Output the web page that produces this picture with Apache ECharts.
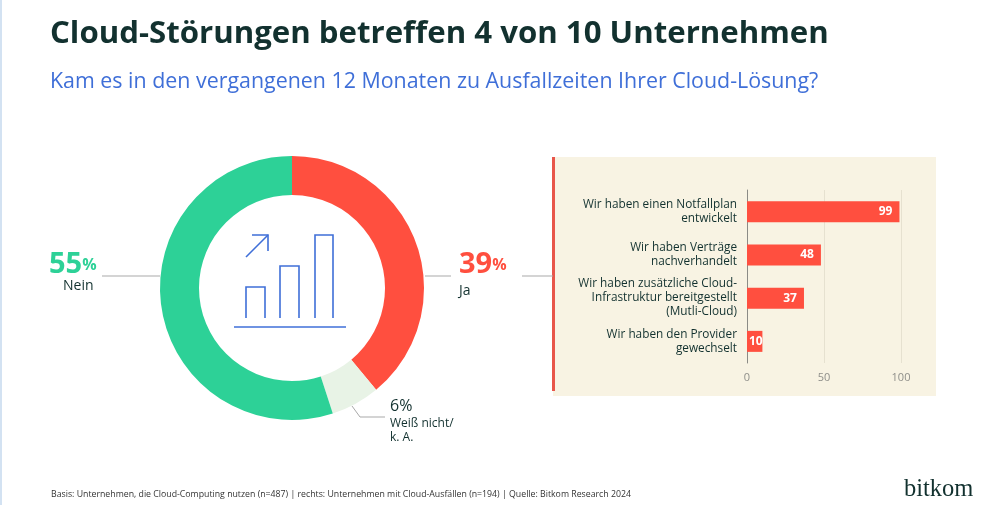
<!DOCTYPE html>
<html><head><meta charset="utf-8">
<style>html,body{margin:0;padding:0;background:#fff}#c{width:1000px;height:505px}</style>
<script src="https://cdn.jsdelivr.net/npm/echarts@6/dist/echarts.min.js"></script>
</head><body><div id="c"></div>
<script>
const pieNames = ['Ja', 'Weiß nicht/ k. A.', 'Nein'];
const pieValues = [39, 6, 55];
const barCategories = [
  'Wir haben einen Notfallplan\nentwickelt',
  'Wir haben Verträge\nnachverhandelt',
  'Wir haben zusätzliche Cloud-\nInfrastruktur bereitgestellt\n(Mutli-Cloud)',
  'Wir haben den Provider\ngewechselt'
];
const barValues = [99, 48, 37, 10];
const xTicks = [0, 50, 100];

const F = '"Open Sans", "Noto Sans", sans-serif';
const DARK = '#12312f', BLUE = '#3f6fd8', RED = '#ff4f3f', GREEN = '#2dd197', PALE = '#e8f3e6', LINE = '#a9a9a9';
const line = (pts, color, w) => ({type:'polyline', silent:true, shape:{points:pts}, style:{fill:null, stroke:color, lineWidth:w}});
const rect = (x,y,w,h,fill,z) => ({type:'rect', silent:true, z:z||0, shape:{x,y,width:w,height:h}, style:{fill}});
const text = (x,y,t,o) => ({type:'text', silent:true, x, y, style:Object.assign({text:t, fontFamily:F, fill:DARK, textVerticalAlign:'middle'}, o)});

const chart = echarts.init(document.getElementById('c'), null, {renderer:'canvas'});
chart.setOption({
  animation:false,
  backgroundColor:'#fff',
  title:[
    {text:'Cloud-Störungen betreffen 4 von 10 Unternehmen', left:45, top:14, textStyle:{fontFamily:F, fontSize:31.2, fontWeight:700, color:DARK}},
    {text:'Kam es in den vergangenen 12 Monaten zu Ausfallzeiten Ihrer Cloud-Lösung?', left:45, top:66, textStyle:{fontFamily:F, fontSize:21.4, fontWeight:400, color:BLUE}}
  ],
  grid:{left:747, top:190, width:154, height:173, containLabel:false},
  xAxis:{type:'value', min:0, max:100, interval:50,
    axisLine:{show:false}, axisTick:{show:false},
    splitLine:{show:true, lineStyle:{color:'#e6e1d0', width:1}},
    axisLabel:{color:'#8f8f8a', fontFamily:F, fontSize:11, margin:9, formatter:v => xTicks.includes(v) ? String(v) : ''}},
  yAxis:{type:'category', inverse:true, data:barCategories,
    axisLine:{show:true, lineStyle:{color:'#8b8b86', width:1}}, axisTick:{show:false},
    axisLabel:{color:DARK, fontFamily:F, fontSize:11.8, lineHeight:14, align:'right', margin:10}},
  series:[
    {type:'pie', center:[292,288], radius:[93,132], startAngle:90, silent:true,
     label:{show:false}, labelLine:{show:false},
     data:pieNames.map((n,i)=>({name:n, value:pieValues[i], itemStyle:{color:[RED,PALE,GREEN][i]}}))},
    {type:'bar', barWidth:21, itemStyle:{color:RED}, silent:true,
     label:{show:true, position:'insideRight', distance:7, color:'#fff', fontFamily:F, fontWeight:700, fontSize:12},
     data:barValues.map((v,i)=> i===3 ? {value:v, label:{position:'insideLeft', distance:2}} : v)}
  ],
  graphic:{elements:[
    rect(0,0,2,505,'#d3e2f2'),
    rect(553,157,383,239,'#f8f3e3',-10),
    rect(552,157,3,234,'#e8564a',-9),
    line([[102,276],[160,276]],LINE,1),
    line([[425,276],[451,276]],LINE,1),
    line([[522,276],[553,276]],LINE,1),
    line([[352,406],[360,417],[385,417]],LINE,1),
    // centre icon
    line([[246,318],[246,287],[265,287],[265,318]],BLUE,1.6),
    line([[280,318],[280,266],[299,266],[299,318]],BLUE,1.6),
    line([[315,318],[315,235],[333,235],[333,318]],BLUE,1.6),
    line([[234,327],[346,327]],BLUE,1.6),
    line([[246,257],[268,235]],BLUE,1.6),
    line([[252,235],[268,235],[268,251]],BLUE,1.6),
    // donut labels
    {type:'text', silent:true, x:49, y:265, style:{text:'{n|55}{p|%}', rich:{n:{fontFamily:F,fontSize:29,fontWeight:700,fill:GREEN},p:{fontFamily:F,fontSize:16,fontWeight:700,fill:GREEN}}, textVerticalAlign:'middle'}},
    text(63,286,'Nein',{fontSize:14}),
    {type:'text', silent:true, x:459, y:265, style:{text:'{n|39}{p|%}', rich:{n:{fontFamily:F,fontSize:29,fontWeight:700,fill:RED},p:{fontFamily:F,fontSize:16,fontWeight:700,fill:RED}}, textVerticalAlign:'middle'}},
    text(459,291,'Ja',{fontSize:14}),
    text(390,406,'6%',{fontSize:16}),
    text(390,424,'Weiß nicht/',{fontSize:12}),
    text(390,438,'k. A.',{fontSize:12}),
    text(51,494,'Basis: Unternehmen, die Cloud-Computing nutzen (n=487) | rechts: Unternehmen mit Cloud-Ausfällen (n=194) | Quelle: Bitkom Research 2024',{fontSize:8.75, fill:'#333'}),
    text(904,490,'bitkom',{fontSize:24.5, fontFamily:'"Liberation Serif", serif', fill:'#12312f'})
  ]}
});
</script></body></html>
